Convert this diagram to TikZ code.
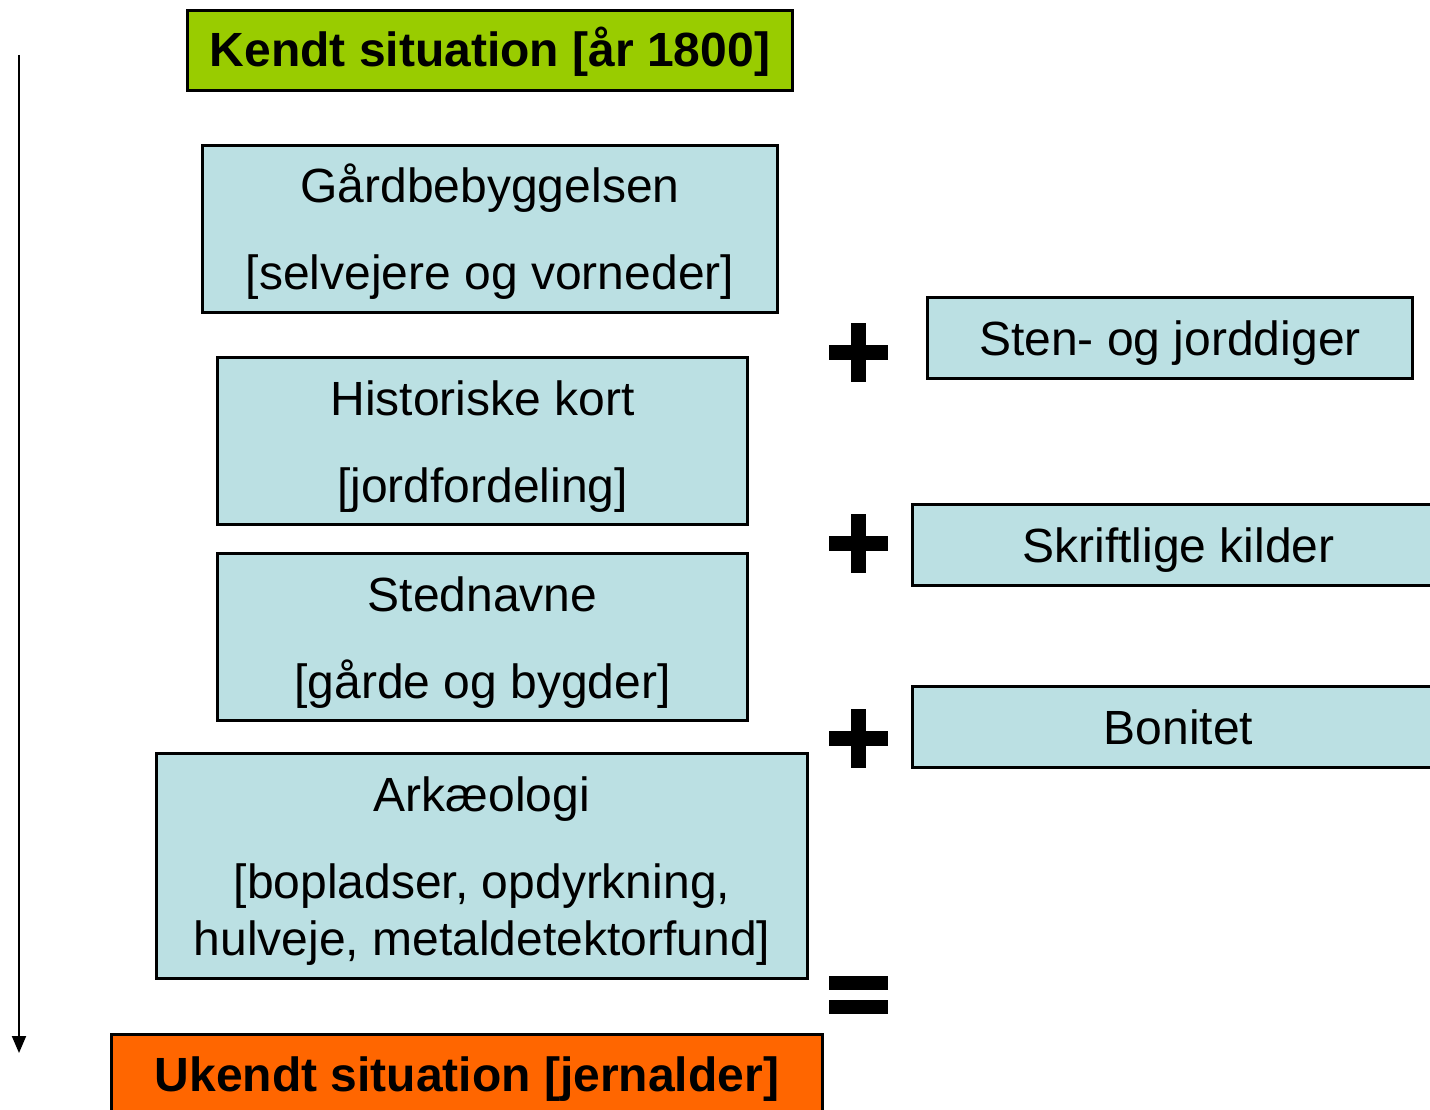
\documentclass[tikz,border=0pt]{standalone}
\usepackage{fontspec}
\setmainfont{Liberation Sans}
\usetikzlibrary{arrows.meta}
\definecolor{kgreen}{HTML}{99CC00}
\definecolor{lblue}{HTML}{BBE0E3}
\definecolor{korange}{HTML}{FF6600}
\tikzset{
  box/.style={draw=black, line width=3pt, fill=lblue, inner sep=0pt, anchor=north west},
  txt/.style={anchor=base, inner sep=0pt, font=\fontsize{48}{57}\selectfont},
  headtxt/.style={txt, font=\fontsize{48}{57}\selectfont\bfseries},
  sign/.style={fill=black},
}
\begin{document}
\begin{tikzpicture}[x=1pt,y=-1pt]
\useasboundingbox (0,0) rectangle (1430,1110);
\clip (0,0) rectangle (1430,1110);
% time arrow
\coordinate (atop) at (19,55);
\coordinate (abot) at (19,1053);
\draw[line width=2pt, -{Triangle[width=14pt,length=17pt]}] (atop) -- (abot);
% left column boxes
\node[box, fill=kgreen, minimum width=605pt, minimum height=80pt] (kendt) at (186,9) {};
\node[box, minimum width=575pt, minimum height=167pt] (gaard) at (201,144) {};
\node[box, minimum width=530pt, minimum height=167pt] (hist) at (216,356) {};
\node[box, minimum width=530pt, minimum height=167pt] (sted) at (216,552) {};
\node[box, minimum width=651pt, minimum height=225pt] (ark) at (155,752) {};
\node[box, fill=korange, minimum width=711pt, minimum height=84pt] (ukendt) at (110,1033) {};
% right column boxes
\node[box, minimum width=485pt, minimum height=81pt] (sten) at (926,296) {};
\node[box, minimum width=532pt, minimum height=81pt] (skrift) at (911,503) {};
\node[box, minimum width=532pt, minimum height=81pt] (bonitet) at (911,685) {};
% texts
\node[headtxt] (kendtT) at ([yshift=-58pt]kendt.north) {Kendt situation [år 1800]};
\node[txt] (gaardA) at ([yshift=-59pt]gaard.north) {Gårdbebyggelsen};
\node[txt] (gaardB) at ([yshift=-146pt]gaard.north) {[selvejere og vorneder]};
\node[txt] (histA) at ([yshift=-59pt]hist.north) {Historiske kort};
\node[txt] (histB) at ([yshift=-146pt]hist.north) {[jordfordeling]};
\node[txt] (stedA) at ([yshift=-59pt]sted.north) {Stednavne};
\node[txt] (stedB) at ([yshift=-146pt]sted.north) {[gårde og bygder]};
\node[txt] (arkA) at ([yshift=-59pt]ark.north) {Arkæologi};
\node[txt] (arkB) at ([yshift=-146pt]ark.north) {[bopladser, opdyrkning,};
\node[txt] (arkC) at ([yshift=-203pt]ark.north) {hulveje, metaldetektorfund]};
\node[headtxt] (ukendtT) at ([yshift=-58pt]ukendt.north) {Ukendt situation [jernalder]};
\node[txt] (stenT) at ([yshift=-59pt]sten.north) {Sten- og jorddiger};
\node[txt] (skriftT) at ([yshift=-59pt]skrift.north) {Skriftlige kilder};
\node[txt] (bonitetT) at ([yshift=-59pt]bonitet.north) {Bonitet};
% plus signs
\foreach \cy in {352,543,738}{
  \fill[sign] (829,\cy-7.5) rectangle (888,\cy+7.5);
  \fill[sign] (851,\cy-29.5) rectangle (866,\cy+29.5);
}
% equals sign
\fill[sign] (829,976) rectangle (888,990);
\fill[sign] (829,1000) rectangle (888,1014);
\end{tikzpicture}
\end{document}
